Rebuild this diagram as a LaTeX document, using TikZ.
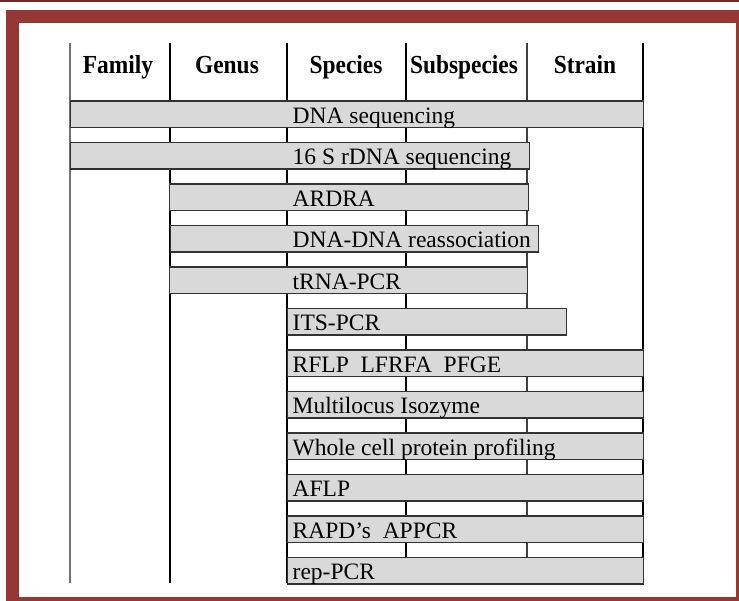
\documentclass[tikz,border=0pt]{standalone}
\usepackage{fontspec}
\setmainfont{Liberation Serif}
\newfontfamily\headfont{Liberation Serif}[FakeStretch=0.9]
\definecolor{frameRed}{RGB}{149, 55, 53}
\definecolor{frameDark}{RGB}{105, 42, 42}
\definecolor{barGray}{RGB}{217, 217, 217}
\usepackage{tikz}
\usetikzlibrary{positioning}

\begin{document}
\begin{tikzpicture}[
    x=1pt, y=-1pt,
    bar/.style={rectangle, draw=black!80, line width=1.3pt, fill=barGray,
                minimum height=26.5pt, inner sep=0pt, anchor=west},
    lbl/.style={anchor=base west, inner sep=0pt,
                font=\fontsize{23.5}{26}\selectfont},
    head/.style={anchor=base, inner sep=0pt,
                 font=\headfont\bfseries\fontsize{26}{28}\selectfont},
    rule/.style={line width=2.6pt, black},
  ]
    \useasboundingbox (0,0) rectangle (739,601);

    % frame
    \fill[frameDark] (0,0) rectangle (739,2.5);
    \fill[frameRed] (6,10) rectangle (739,601);
    \fill[white] (19,23) rectangle (735.5,597);

    % column rules
    \coordinate (famL) at (70,43);
    \coordinate (genL) at (170,43);
    \coordinate (spcL) at (287,43);
    \coordinate (subL) at (406,43);
    \coordinate (strL) at (527,43);
    \coordinate (strR) at (643,43);
    \draw[line width=1.6pt, black!55] (famL) -- ++(0,540);
    \draw[rule] (genL) -- ++(0,540);
    \draw[rule] (spcL) -- ++(0,540);
    \draw[line width=1.9pt, black] (subL) -- ++(0,540);
    \draw[line width=1.3pt, black!75] (strL) -- ++(0,540);
    \draw[rule] (strR) -- ++(0,540);

    % headers
    \node[head] (family) at (118,73.3) {Family};
    \node[head] (genus) at (227,73.3) {Genus};
    \node[head] (species) at (346,73.3) {Species};
    \node[head] (subspecies) at (464,73.3) {Subspecies};
    \node[head] (strain) at (585,73.3) {Strain};

    % methods
    \node[bar, minimum width=573pt] (seq) at (70,114.25) {};
    \node[bar, minimum width=459pt] (rdna) at (70,155.75) {};
    \node[bar, minimum width=359pt] (ardra) at (169,197.25) {};
    \node[bar, minimum width=368pt] (reassoc) at (170,238.75) {};
    \node[bar, minimum width=358pt] (trna) at (169,280.25) {};
    \node[bar, minimum width=279pt] (its) at (287,321.75) {};
    \node[bar, minimum width=356pt] (rflp) at (287,363.25) {};
    \node[bar, minimum width=356pt] (isozyme) at (287,404.75) {};
    \node[bar, minimum width=356pt] (protein) at (287,446.25) {};
    \node[bar, minimum width=356pt] (aflp) at (287,487.75) {};
    \node[bar, minimum width=356pt] (rapd) at (287,529.25) {};
    \node[bar, minimum width=356pt] (rep) at (287,570.75) {};

    \node[lbl] (seqText) at (292.5,123.25) {DNA sequencing};
    \node[lbl] (rdnaText) at (292.5,164.75) {16 S rDNA sequencing};
    \node[lbl] (ardraText) at (292.5,206.25) {ARDRA};
    \node[lbl] (reassocText) at (292.5,247.75) {DNA-DNA reassociation};
    \node[lbl] (trnaText) at (292.5,289.25) {tRNA-PCR};
    \node[lbl] (itsText) at (292.5,330.75) {ITS-PCR};
    \node[lbl] (rflpText) at (292.5,372.25) {RFLP\ \ LFRFA\ \ PFGE};
    \node[lbl] (isozymeText) at (292.5,413.75) {Multilocus Isozyme};
    \node[lbl] (proteinText) at (292.5,455.25) {Whole cell protein profiling};
    \node[lbl] (aflpText) at (292.5,496.75) {AFLP};
    \node[lbl] (rapdText) at (292.5,538.25) {RAPD’s\ \ APPCR};
    \node[lbl] (repText) at (292.5,579.75) {rep-PCR};
  \end{tikzpicture}
\end{document}
